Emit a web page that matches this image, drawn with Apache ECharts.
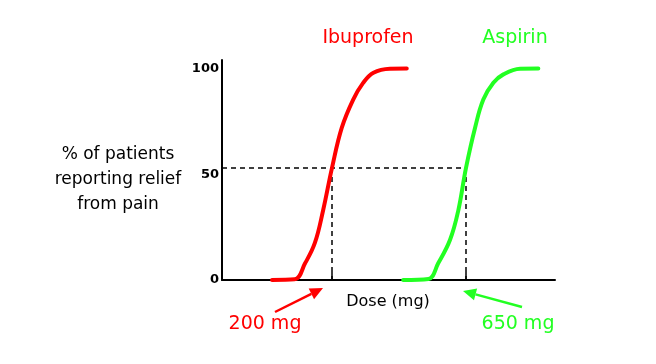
<!DOCTYPE html>
<html>
<head>
<meta charset="utf-8">
<script src="https://cdn.jsdelivr.net/npm/echarts@6/dist/echarts.min.js"></script>
<style>html,body{margin:0;padding:0;background:#fff}#c{width:656px;height:364px}</style>
</head>
<body>
<div id="c"></div>
<script>
// Dose (mg, log scale) vs % of patients reporting relief
const ibuprofenDose = [118, 144, 158, 172, 185, 200, 218, 241, 263, 288, 333, 386];
const ibuprofenPct  = [0, 0.3, 8, 17.5, 33, 53, 72, 85.3, 93.2, 98, 99.9, 100];
const aspirinDose = [374, 467, 509, 565, 607, 650, 704, 757, 827, 903, 1046, 1228];
const aspirinPct  = [0, 0.5, 7.9, 19, 32.7, 53, 72, 85.3, 93.2, 97.2, 99.9, 100];
const markedDoses = [200, 650];
const markedPct = 53;
const yTickValues = [0, 50, 100];
const doseMin = 76, doseMax = 1422;

const RED = '#ff0000', GREEN = '#22ff22';
const FONT = 'DejaVu Sans';

function zip(a, b) { return a.map((v, i) => [v, b[i]]); }

const chart = echarts.init(document.getElementById('c'), null, {renderer: 'canvas'});
const dashStyle = {color: '#000', width: 1.5, type: [5, 4]};
const curve = (d, c) => ({type: 'line', data: d, smooth: 0.4, showSymbol: false,
  lineStyle: {color: c, width: 4, cap: 'round', join: 'round'}, z: 3});
const option = {
  animation: false,
  grid: {left: 222, right: 101, top: 60, bottom: 84},
  xAxis: {
    type: 'log', logBase: 10, min: doseMin, max: doseMax,
    axisLine: {show: true, lineStyle: {color: '#000', width: 2}},
    axisTick: {show: true, inside: true, length: 8, customValues: markedDoses, lineStyle: {color: '#000', width: 1.5}},
    axisLabel: {show: false},
    splitLine: {show: false}, minorTick: {show: false}
  },
  yAxis: {
    type: 'value', min: 0, max: 104,
    axisLine: {show: true, lineStyle: {color: '#000', width: 2}},
    axisTick: {show: false},
    axisLabel: {customValues: yTickValues, color: '#000', fontWeight: 'bold', fontSize: 13, margin: 3, fontFamily: FONT},
    splitLine: {show: false}
  },
  series: [
    curve(zip(ibuprofenDose, ibuprofenPct), RED),
    curve(zip(aspirinDose, aspirinPct), GREEN),
    {type: 'line', data: [[doseMin, markedPct], [markedDoses[1], markedPct]], showSymbol: false, lineStyle: dashStyle, z: 2},
    {type: 'line', data: [[markedDoses[0], markedPct], [markedDoses[0], 0]], showSymbol: false, lineStyle: dashStyle, z: 2},
    {type: 'line', data: [[markedDoses[1], markedPct], [markedDoses[1], 0]], showSymbol: false, lineStyle: dashStyle, z: 2}
  ]
};
chart.setOption(option);

function arrow(tail, tip, color) {
  const dx = tip[0] - tail[0], dy = tip[1] - tail[1];
  const len = Math.sqrt(dx * dx + dy * dy), ux = dx / len, uy = dy / len;
  const hl = 13, hw = 6;
  const bx = tip[0] - ux * hl, by = tip[1] - uy * hl;
  return [
    {type: 'line', shape: {x1: tail[0], y1: tail[1], x2: bx, y2: by}, style: {stroke: color, lineWidth: 2.5}},
    {type: 'polygon', shape: {points: [tip, [bx - uy * hw, by + ux * hw], [bx + uy * hw, by - ux * hw]]}, style: {fill: color}}
  ];
}
const p200 = chart.convertToPixel({gridIndex: 0}, [markedDoses[0], 0]);
const p650 = chart.convertToPixel({gridIndex: 0}, [markedDoses[1], 0]);
const txt = (x, y, text, color, size, extra) => Object.assign({type: 'text', x: x, y: y,
  style: Object.assign({text: text, fill: color, fontSize: size, fontFamily: FONT, textAlign: 'center', textVerticalAlign: 'middle'}, extra || {})});
chart.setOption({
  graphic: [
    txt(368, 38, 'Ibuprofen', RED, 19),
    txt(515, 38, 'Aspirin', GREEN, 19),
    txt(118, 180, '% of patients\nreporting relief\nfrom pain', '#000', 17, {lineHeight: 25}),
    txt(388, 302, 'Dose (mg)', '#000', 16),
    txt(265, 324, '200 mg', RED, 19),
    txt(518, 324, '650 mg', GREEN, 19)
  ].concat(arrow([p200[0] - 57, p200[1] + 32], [p200[0] - 9, p200[1] + 8], RED))
   .concat(arrow([p650[0] + 56, p650[1] + 27], [p650[0] - 3, p650[1] + 11], GREEN))
});
</script>
</body>
</html>
